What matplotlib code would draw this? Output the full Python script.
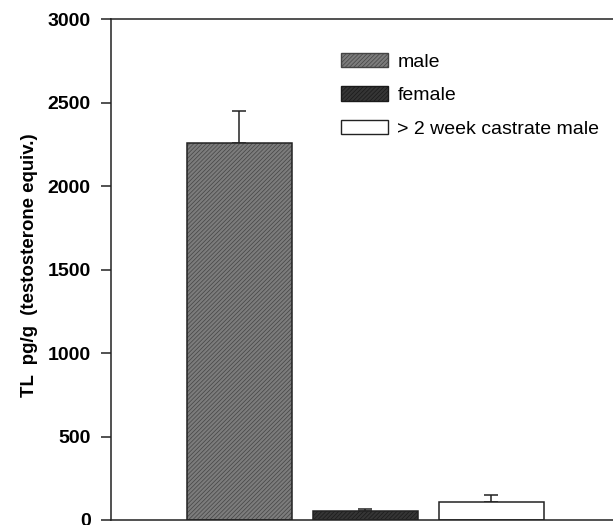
import matplotlib.pyplot as plt
import numpy as np

plt.rcParams['font.family'] = ['Liberation Sans', 'DejaVu Sans']
plt.rcParams['hatch.linewidth'] = 0.5

# dati
groups = ['male', 'female', '> 2 week castrate male']
values = [2255, 55, 108]
errors = [195, 12, 42]
faces = ['#7c7c7c', '#353535', 'white']
hatch_cols = ['#444444', '#1a1a1a', '#222222']
hatches = ['////////', '////////', '']

fig = plt.figure(figsize=(6.13, 5.25), dpi=100)
ax = fig.add_axes([111/613, 5/525, 1.05, 501/525])

x = np.arange(len(groups))
for i in range(len(groups)):
    ax.bar(x[i], values[i], width=0.83, color=faces[i], edgecolor=hatch_cols[i],
           hatch=hatches[i], linewidth=0, label=groups[i], zorder=2)
    # contorno della barra
    ax.bar(x[i], values[i], width=0.83, fill=False, edgecolor='#222222',
           linewidth=1.1, zorder=3)
    ax.errorbar(x[i], values[i], yerr=[[0], [errors[i]]], fmt='none',
                ecolor='#222222', elinewidth=1.1, capsize=5, capthick=1.1, zorder=1)

ax.set_xlim(-1.02, 4.09)
ax.set_ylim(0, 3000)
ax.set_yticks([0, 500, 1000, 1500, 2000, 2500, 3000])
ax.set_xticks([])
for lbl in ax.get_yticklabels():
    lbl.set_fontweight('bold')
ax.tick_params(axis='y', labelsize=14, length=7.5, width=1.1, pad=7, color='#222222')
ax.spines['right'].set_visible(False)
for s in ['left', 'top', 'bottom']:
    ax.spines[s].set_linewidth(1.1)
    ax.spines[s].set_color('#222222')

fig.text(30/613, 1 - 265/525, 'TL  pg/g  (testosterone equiv.)', rotation=90,
         ha='center', va='center', fontsize=13.4, fontweight='bold')

handles, labels = ax.get_legend_handles_labels()
leg = ax.legend(handles, labels, loc='upper left', bbox_to_anchor=(341/613, 1 - 53/525),
                bbox_transform=fig.transFigure, frameon=False, fontsize=14,
                handlelength=2.4, handleheight=0.75, handletextpad=0.5,
                labelspacing=0.8, borderpad=0, borderaxespad=0)
for p in leg.get_patches():
    p.set_linewidth(1.0)
leg.get_patches()[2].set_edgecolor('#222222')

fig.savefig('out.png', dpi=100)
